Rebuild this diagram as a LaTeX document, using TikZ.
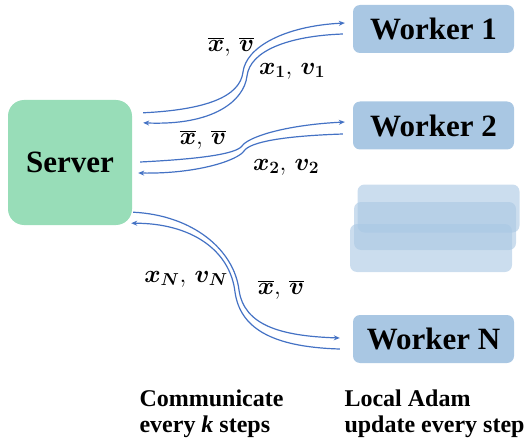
\documentclass[tikz,border=0pt]{standalone}
\usepackage{bm}
\usepackage{fontspec}
\setmainfont{Liberation Serif}
\usetikzlibrary{arrows.meta,calc}

\definecolor{srvgreen}{RGB}{152,221,184}
\definecolor{wblue}{RGB}{169,199,227}
\definecolor{linkblue}{RGB}{68,114,196}

\tikzset{
  srvbox/.style={fill=srvgreen,rounded corners=16pt,minimum width=124pt,minimum height=125pt,
    font=\fontsize{31}{36}\selectfont\bfseries},
  wbox/.style={fill=wblue,rounded corners=7pt,minimum width=161pt,minimum height=48pt,
    font=\fontsize{31}{36}\selectfont\bfseries},
  ghost/.style={fill=wblue,fill opacity=0.6,rounded corners=7pt,minimum width=162pt,minimum height=48pt},
  link/.style={draw=linkblue,line width=1.2pt},
  linkto/.style={link,-{Stealth[length=6pt,width=5pt]}},
  lbl/.style={font=\fontsize{23}{26}\selectfont,inner sep=1pt},
  note/.style={align=left,anchor=north west,font=\fontsize{24}{26}\selectfont\bfseries}
}

\begin{document}
\begin{tikzpicture}[x=1pt,y=-1pt]
   \useasboundingbox (0,0) rectangle (530,441);
   % Server and workers
   \node[srvbox] (srv) at (70,162.5) {Server};
   \node[wbox] (w1) at (433.5,29) {Worker 1};
   \node[wbox] (w2) at (433.5,125.5) {Worker 2};
   \node[ghost] (g1) at (438.5,208.5) {};
   \node[ghost] (g2) at (435,226) {};
   \node[ghost] (g3) at (431,248) {};
   \node[wbox] (wn) at (433.5,339) {Worker N};
   % Link ends
   \coordinate (s1o) at ($(srv.north east)+(11,13)$);
   \coordinate (s1i) at ($(srv.north east)+(11,23)$);
   \coordinate (s2o) at ($(srv.east)+(8,-0.5)$);
   \coordinate (s2i) at ($(srv.east)+(6,10.5)$);
   \coordinate (sno) at ($(srv.south east)+(1,-13)$);
   \coordinate (sni) at ($(srv.south east)+(-1,-2)$);
   \coordinate (w1i) at ($(w1.west)+(-8,-6)$);
   \coordinate (w1o) at ($(w1.west)+(-10,5)$);
   \coordinate (w2i) at ($(w2.west)+(-8,-3.5)$);
   \coordinate (w2o) at ($(w2.west)+(-10,8.5)$);
   \coordinate (wni) at ($(wn.west)+(-13,-1)$);
   \coordinate (wno) at ($(wn.west)+(-13,10)$);
   % Worker 1
   \draw[linkto] (s1o) .. controls +(62,-3) and +(-3,25) .. (243,72)
      .. controls +(3,-25) and +(-60,3) .. (w1i);
   \draw[linkto] (w1o) .. controls +(-55,2) and +(3,-25) .. (247,76)
      .. controls +(-3,25) and +(70,3) .. (s1i);
   % Worker 2
   \draw[linkto] (s2o) .. controls +(60,-3) and +(-6,8) .. (242,146)
      .. controls +(6,-9) and +(-60,3) .. (w2i);
   \draw[linkto] (w2o) .. controls +(-60,2) and +(6,-9) .. (244,151)
      .. controls +(-6,9) and +(60,1) .. (s2i);
   % Worker N
   \draw[linkto] (sno) .. controls +(60,3) and +(-5,-40) .. (239,290)
      .. controls +(5,35) and +(-60,-2) .. (wni);
   \draw[linkto] (wno) .. controls +(-70,-2) and +(5,35) .. (235,292)
      .. controls +(-5,-42) and +(60,0) .. (sni);
   % Labels
   \node[lbl] (l1a) at (231,47) {$\overline{\bm{x}},\,\overline{\bm{v}}$};
   \node[lbl] (l1b) at (292,71) {$\bm{x_1},\,\bm{v_1}$};
   \node[lbl] (l2a) at (203,140) {$\overline{\bm{x}},\,\overline{\bm{v}}$};
   \node[lbl] (l2b) at (286,167) {$\bm{x_2},\,\bm{v_2}$};
   \node[lbl] (lna) at (186,279) {$\bm{x_N},\,\bm{v_N}$};
   \node[lbl] (lnb) at (281,290) {$\overline{\bm{x}},\,\overline{\bm{v}}$};
   % Notes
   \node[note] (comm) at (136,386) {Communicate\\every \textit{k} steps};
   \node[note] (loc) at (341,386) {Local Adam\\update every step};
\end{tikzpicture}
\end{document}
